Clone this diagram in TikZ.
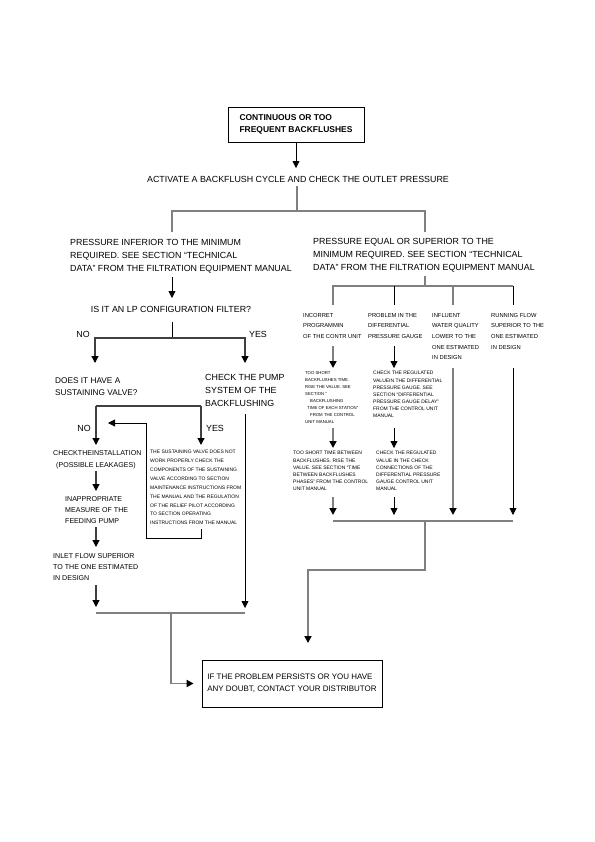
\documentclass[tikz,border=0pt]{standalone}
\usepackage{fontspec}
\setmainfont{Liberation Sans}
\usetikzlibrary{arrows.meta}

\tikzset{
  tip/.style={-{Triangle[width=7bp,length=7bp,color=black]}},
  line/.style={draw=black, line width=0.8pt},
  dline/.style={draw=black!75, line width=1.2pt},
  gline/.style={draw=black!50, line width=1.7pt},
  txt/.style={inner sep=0pt, anchor=north west, align=left},
  big/.style={txt, font=\fontsize{8.9}{13}\selectfont},
  mid/.style={txt, font=\fontsize{7.1}{11}\selectfont},
  col/.style={txt, font=\fontsize{5.8}{10.7}\selectfont},
  fine/.style={txt, font=\fontsize{5}{7.15}\selectfont},
  box/.style={draw, line width=0.8pt, inner xsep=0pt, align=left}
}

\begin{document}
\begin{tikzpicture}[x=1bp, y=-1bp]
\useasboundingbox (0,0) rectangle (595,842);

% start and end
\node[box, font=\bfseries\fontsize{8.5}{12}\selectfont, minimum width=136bp, minimum height=35bp] (top) at (296,124.5) {CONTINUOUS OR TOO\\FREQUENT BACKFLUSHES};
\node[box, font=\fontsize{8}{12}\selectfont, minimum width=180bp, minimum height=47bp] (final) at (292,683.5) {IF THE PROBLEM PERSISTS OR YOU HAVE\\ANY DOUBT, CONTACT YOUR DISTRIBUTOR};

% main texts
\node[big, anchor=center] (activate) at (298,179) {ACTIVATE A BACKFLUSH CYCLE AND CHECK THE OUTLET PRESSURE};
\node[big] (inferior) at (70,238.8) {PRESSURE INFERIOR TO THE MINIMUM\\REQUIRED. SEE SECTION “TECHNICAL\\DATA” FROM THE FILTRATION EQUIPMENT MANUAL};
\node[big] (equal) at (313,237.8) {PRESSURE EQUAL OR SUPERIOR TO THE\\MINIMUM REQUIRED. SEE SECTION “TECHNICAL\\DATA” FROM THE FILTRATION EQUIPMENT MANUAL};

% left branch
\node[big, anchor=center] (lpq) at (171,309) {IS IT AN LP CONFIGURATION FILTER?};
\node[big, anchor=center] (no1) at (83,334) {NO};
\node[big, anchor=center] (yes1) at (258,334) {YES};
\node[big, font=\fontsize{8.3}{12}\selectfont] (valve) at (55,378) {DOES IT HAVE A\\SUSTAINING VALVE?};
\node[big] (pump) at (205,373.8) {CHECK THE PUMP\\SYSTEM OF THE\\BACKFLUSHING};
\node[big, anchor=center] (no2) at (84,428) {NO};
\node[big, anchor=center] (yes2) at (215,428) {YES};
\node[mid, font=\fontsize{7.1}{12}\selectfont] (install) at (53,450.4) {CHECKTHEINSTALLATION\\\hspace*{3bp}(POSSIBLE LEAKAGES)};
\node[mid] (inapp) at (65,496.4) {INAPPROPRIATE\\MEASURE OF THE\\FEEDING PUMP};
\node[mid] (inlet) at (53,553.4) {INLET FLOW SUPERIOR\\TO THE ONE ESTIMATED\\IN DESIGN};
\node[txt, font=\fontsize{5}{8.9}\selectfont] (fix) at (150,450.2) {THE SUSTAINING VALVE DOES NOT\\WORK PROPERLY CHECK THE\\COMPONENTS OF THE SUSTAINING\\VALVE ACCORDING TO SECTION\\MAINTENANCE INSTRUCTIONS FROM\\THE MANUAL AND THE REGULATION\\OF THE RELIEF PILOT ACCORDING\\TO SECTION OPERATING\\INSTRUCTIONS FROM THE MANUAL};

% right branch
\node[col] (prog) at (303,312.9) {INCORRET\\PROGRAMMIN\\OF THE CONTR UNIT};
\node[col] (gauge) at (368,312.9) {PROBLEM IN THE\\DIFFERENTIAL\\PRESSURE GAUGE};
\node[col] (water) at (432,312.9) {INFLUENT\\WATER QUALITY\\LOWER TO THE\\ONE ESTIMATED\\IN DESIGN};
\node[col] (flowrate) at (491,312.9) {RUNNING FLOW\\SUPERIOR TO THE\\ONE ESTIMATED\\IN DESIGN};
\node[fine, font=\fontsize{4.3}{7}\selectfont] (bftime) at (305,371.5) {TOO SHORT\\BACKFLUSHES TIME.\\RISE THE VALUE. SEE\\SECTION ”\\\hspace*{5bp}BACKFLUSHING\\\hspace*{2bp}TIME OF EACH STATION”\\\hspace*{5bp}FROM THE CONTROL\\UNIT MANUAL};
\node[fine] (delay) at (373,371.2) {CHECK THE REGULATED\\VALUEIN THE DIFFERENTIAL\\PRESSURE GAUGE. SEE\\SECTION “DIFFERENTIAL\\PRESSURE GAUGE DELAY”\\FROM THE CONTROL UNIT\\MANUAL};
\node[fine] (phases) at (293,451.2) {TOO SHORT TIME BETWEEN\\BACKFLUSHES. RISE THE\\VALUE. SEE SECTION “TIME\\BETWEEN BACKFLUSHES\\PHASES” FROM THE CONTROL\\UNIT MANUAL};
\node[fine] (connect) at (376,451.2) {CHECK THE REGULATED\\VALUE IN THE CHECK\\CONNECTIONS OF THE\\DIFFERENTIAL PRESSURE\\GAUGE CONTROL UNIT\\MANUAL};

% junctions and arrow ends
\foreach \n/\x/\y in {t1/296/168, sp1/297/211, bl/172/232, br/425/232,
    lp0/172/277, lp1/172/298, lq0/172/322, lq1/172/338, noT/95/363, yesT/245/363,
    sv1/96/406, sv2/201/406, svno/96/445, svyes/201/445,
    pp0/245/414, ppT/245/608,
    fb0/201/529, fbc/201/538, fb1/146/423, fbT/108/423,
    in0/96/471, in1/96/491, ip0/96/527, ip1/96/547, il0/96/585, il1/96/607,
    h1/96/613, h0/171/613, h2/245/613,
    eq0/425/276, eq1/425/286, k1/333/305, k2/394/305, k3/453/305, k4/513/305,
    p1a/333/346, p1b/333/368, p2a/394/346, p2b/394/368,
    w0/453/368, wT/453/515, r0/513/368, rT/513/515,
    q1a/333/428, q1b/333/448, q2a/394/428, q2b/394/448,
    u1a/333/497, u1b/333/515, u2a/394/497, u2b/394/515,
    g1/333/521, g0/425/521, g4/513/521, gc/425/570, gT/308/643}
  \coordinate (\n) at (\x,\y);

% top part
\draw[line, tip] (top) -- (t1);
\draw[gline, shorten <=4bp] (activate.south -| sp1) -- (sp1);
\draw[gline] (bl) |- (sp1) -| (br);

% left part
\draw[line, tip] (lp0) -- (lp1);
\draw[line] (lq0) -- (lq1);
\draw[dline, tip] (lq1) -| (noT);
\draw[dline, tip] (lq1) -| (yesT);
\draw[dline] (sv1) -- (sv2);
\draw[dline, tip] (sv1) -- (svno);
\draw[dline, tip] (sv2) -- (svyes);
\draw[line, tip] (pp0) -- (ppT);
\draw[line, tip] (fb0) -- (fbc) -| (fb1) -- (fbT);
\draw[dline, tip] (in0) -- (in1);
\draw[dline, tip] (ip0) -- (ip1);
\draw[dline, tip] (il0) -- (il1);
\draw[gline] (h1) -- (h2);
\draw[gline, tip, shorten >=8bp] (h0) |- (final.west);

% right part
\draw[gline] (eq0) -- (eq1);
\draw[gline] (k1) |- (eq1) -- (eq1 -| k4);
\draw[line] (k2) -- (k2 |- eq1);
\draw[gline] (k3) -- (k3 |- eq1);
\draw[line] (k4) -- (k4 |- eq1);
\draw[gline, tip] (p1a) -- (p1b);
\draw[line, tip] (p2a) -- (p2b);
\draw[gline, tip] (w0) -- (wT);
\draw[line, tip] (r0) -- (rT);
\draw[gline, tip] (q1a) -- (q1b);
\draw[line, tip] (q2a) -- (q2b);
\draw[gline, tip] (u1a) -- (u1b);
\draw[line, tip] (u2a) -- (u2b);
\draw[gline] (g1) -- (g4);
\draw[gline, tip] (g0) -- (gc) -| (gT);
\end{tikzpicture}
\end{document}
